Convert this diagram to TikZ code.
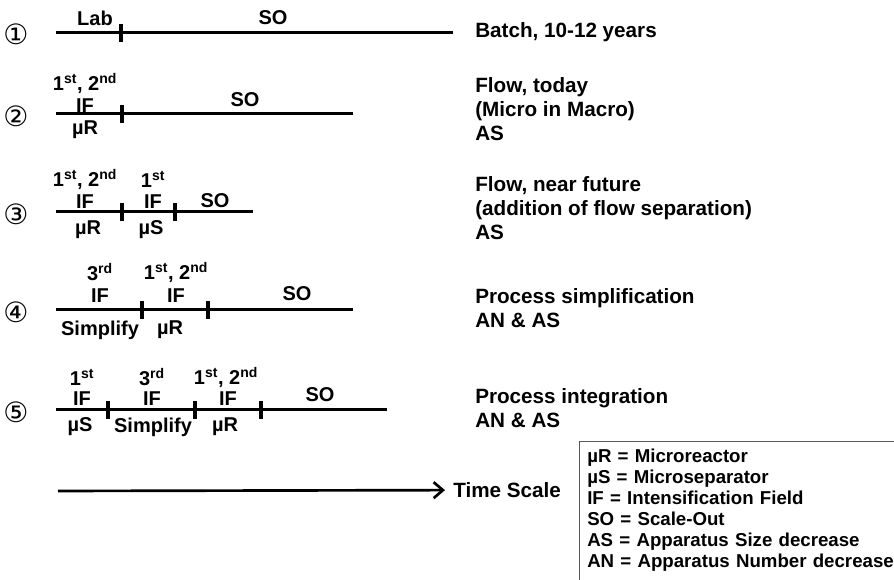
\documentclass[tikz,border=0pt]{standalone}
\usepackage{fontspec}
\setmainfont{Liberation Sans}
\newfontfamily\circfont{DejaVu Sans}
\usetikzlibrary{arrows.meta}
\tikzset{
  tl/.style={line width=2.25pt},
  tick/.style={fill, minimum width=2.4pt, minimum height=14pt, inner sep=0pt},
  lbl/.style={font=\fontsize{15}{16}\selectfont\bfseries, inner sep=0pt},
  num/.style={font=\circfont\fontsize{21}{21}\selectfont, inner sep=0pt},
  note/.style={font=\fontsize{15.5}{18}\selectfont\bfseries, align=left, anchor=west, inner sep=0pt},
  key/.style={anchor=north west, align=left, text width=250pt, inner xsep=6pt, inner ysep=6pt,
              font=\fontsize{14}{15.75}\selectfont\bfseries},
  frame/.style={draw, line width=0.6pt, gray!70!black},
  time/.style={-{Straight Barb[length=7pt,width=12pt,line width=2pt]}, line width=2pt}
}
\newcommand{\ord}[2]{#1\textsuperscript{#2}}
\begin{document}
\begin{tikzpicture}[x=0.75pt, y=-0.75pt]
\useasboundingbox (0,0) rectangle (894,580);
% 1: batch
\node[num] (n1) at (16,34) {①};
\coordinate (a1) at (56,33);
\coordinate (b1) at (453,33);
\draw[tl] (a1) -- (b1);
\node[tick] (k11) at (121,33) {};
\node[lbl] (lab1) at (95,18) {Lab};
\node[lbl] (so1) at (273,18) {SO};
\node[note] (t1) at (475,32) {Batch, 10-12 years};
% 2: flow today
\node[num] (n2) at (16,116) {②};
\coordinate (a2) at (56,114);
\coordinate (b2) at (353,114);
\draw[tl] (a2) -- (b2);
\node[tick] (k21) at (122,114) {};
\node[lbl] (ord2) at (85,83) {\ord{1}{st}, \ord{2}{nd}};
\node[lbl] (if2) at (85,106) {IF};
\node[lbl] (mr2) at (85,130) {µR};
\node[lbl] (so2) at (245,100) {SO};
\node[note] (t2) at (475,109) {Flow, today\\(Micro in Macro)\\AS};
% 3: flow, near future
\node[num] (n3) at (16,214) {③};
\coordinate (a3) at (56,212);
\coordinate (b3) at (253,212);
\draw[tl] (a3) -- (b3);
\node[tick] (k31) at (122,212) {};
\node[tick] (k32) at (175,212) {};
\node[lbl] (ord31) at (85,179) {\ord{1}{st}, \ord{2}{nd}};
\node[lbl] (if31) at (85,202) {IF};
\node[lbl] (mr3) at (88,230) {µR};
\node[lbl] (ord32) at (153,179) {\ord{1}{st}};
\node[lbl] (if32) at (153,202) {IF};
\node[lbl] (ms3) at (151,230) {µS};
\node[lbl] (so3) at (215,201) {SO};
\node[note] (t3) at (475,208) {Flow, near future\\(addition of flow separation)\\AS};
% 4: process simplification
\node[num] (n4) at (16,312) {④};
\coordinate (a4) at (56,310);
\coordinate (b4) at (353,310);
\draw[tl] (a4) -- (b4);
\node[tick] (k41) at (142,310) {};
\node[tick] (k42) at (208,310) {};
\node[lbl] (ord41) at (100,272) {\ord{3}{rd}};
\node[lbl] (if41) at (100,296) {IF};
\node[lbl] (sim4) at (100,330) {Simplify};
\node[lbl] (ord42) at (176,272) {\ord{1}{st}, \ord{2}{nd}};
\node[lbl] (if42) at (176,296) {IF};
\node[lbl] (mr4) at (170,330) {µR};
\node[lbl] (so4) at (297,294) {SO};
\node[note] (t4) at (475,308) {Process simplification\\AN \& AS};
% 5: process integration
\node[num] (n5) at (16,412) {⑤};
\coordinate (a5) at (56,410);
\coordinate (b5) at (387,410);
\draw[tl] (a5) -- (b5);
\node[tick] (k51) at (108,410) {};
\node[tick] (k52) at (195,410) {};
\node[tick] (k53) at (261,410) {};
\node[lbl] (ord51) at (82,377) {\ord{1}{st}};
\node[lbl] (if51) at (82,399) {IF};
\node[lbl] (ms5) at (80,427) {µS};
\node[lbl] (ord52) at (152,377) {\ord{3}{rd}};
\node[lbl] (if52) at (152,399) {IF};
\node[lbl] (sim5) at (153,427) {Simplify};
\node[lbl] (ord53) at (226,377) {\ord{1}{st}, \ord{2}{nd}};
\node[lbl] (if53) at (228,399) {IF};
\node[lbl] (mr5) at (225,427) {µR};
\node[lbl] (so5) at (320,395) {SO};
\node[note] (t5) at (475,408) {Process integration\\AN \& AS};
% time axis
\coordinate (ts) at (58,491);
\node[note, inner xsep=6pt] (scale) at (445,490) {Time Scale};
\draw[time] (ts) -- (scale);
% legend
\node[key] (key) at (579,441) {µR = Microreactor\\µS = Microseparator\\IF = Intensification Field\\SO = Scale-Out\\AS = Apparatus Size decrease\\AN = Apparatus Number decrease};
\draw[frame] (key.north west) rectangle ([shift={(20,40)}]key.south east);
\end{tikzpicture}
\end{document}
